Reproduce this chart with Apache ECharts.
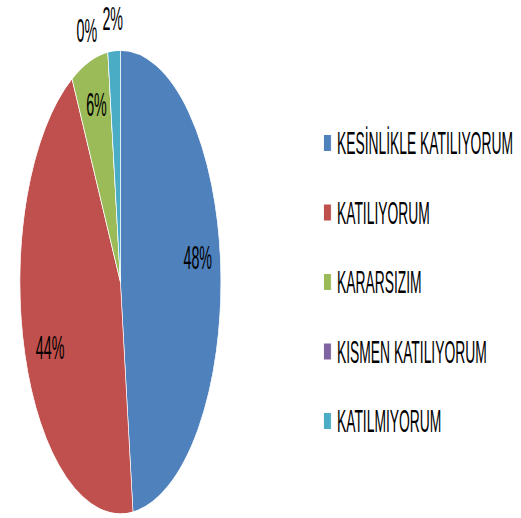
<!DOCTYPE html>
<html>
<head>
<meta charset="utf-8">
<script src="https://cdn.jsdelivr.net/npm/echarts@6/dist/echarts.min.js"></script>
<style>
  html, body { margin: 0; padding: 0; background: #ffffff; overflow: hidden; }
  #wrap { width: 521px; height: 518px; overflow: hidden; position: relative; }
  #chart { width: 1203px; height: 518px; transform: scaleX(0.4331); transform-origin: 0 0; }
</style>
</head>
<body>
<div id="wrap"><div id="chart"></div></div>
<script>
// ---- data ----
const categories = ['KESİNLİKLE KATILIYORUM', 'KATILIYORUM', 'KARARSIZIM', 'KISMEN KATILIYORUM', 'KATILMIYORUM'];
const percentValues = [48, 44, 6, 0, 2];
const sliceColors = ['#4F81BD', '#C0504D', '#9BBB59', '#8064A2', '#4BACC6'];

// ---- layout / style ----
const FONT = '"Liberation Sans", Arial, sans-serif';
const CENTER = [278, 282];
const R = 232;

const pieData = categories.map((name, i) => ({
  name: name,
  value: percentValues[i],
  itemStyle: { color: sliceColors[i] }
}));

// label nudges (style only)
const insideOffsets = { 0: [0, -13], 1: [8, 10], 2: [0, -7] };
const outsideOffsets = { 3: [-22, -2], 4: [22, -12] };
const labelData = categories.map((name, i) => {
  const item = { name: name, value: percentValues[i] };
  if (outsideOffsets[i]) {
    item.label = { position: 'outside', offset: outsideOffsets[i] };
    item.labelLine = { show: false, length: 20, length2: 0 };
  } else if (insideOffsets[i]) {
    item.label = { offset: insideOffsets[i] };
  }
  return item;
});

const chart = echarts.init(document.getElementById('chart'), null, { renderer: 'svg' });
chart.setOption({
  animation: false,
  backgroundColor: '#ffffff',
  legend: {
    orient: 'vertical',
    left: 746,
    top: 123,
    padding: 0,
    itemGap: 29.5,
    itemWidth: 18,
    itemHeight: 18,
    icon: 'rect',
    data: categories,
    textStyle: { fontFamily: FONT, fontSize: 32, color: '#000000', lineHeight: 40, padding: [0, 0, 0, 8] }
  },
  series: [
    {
      type: 'pie',
      name: 'main',
      center: CENTER,
      radius: R,
      startAngle: 90,
      clockwise: true,
      label: { show: false },
      labelLine: { show: false },
      itemStyle: { borderColor: '#ffffff', borderWidth: 1.5 },
      emphasis: { scale: false },
      data: pieData
    },
    {
      type: 'pie',
      name: 'labels',
      center: CENTER,
      radius: [120, R],
      startAngle: 90,
      clockwise: true,
      silent: true,
      avoidLabelOverlap: false,
      itemStyle: { color: 'rgba(0,0,0,0)', borderWidth: 0 },
      emphasis: { disabled: true },
      label: {
        show: true,
        position: 'inside',
        formatter: '{c}%',
        fontFamily: FONT,
        fontSize: 33,
        color: '#000000',
        distanceToLabelLine: 0
      },
      labelLine: { show: false },
      data: labelData
    }
  ]
});
</script>
</body>
</html>
